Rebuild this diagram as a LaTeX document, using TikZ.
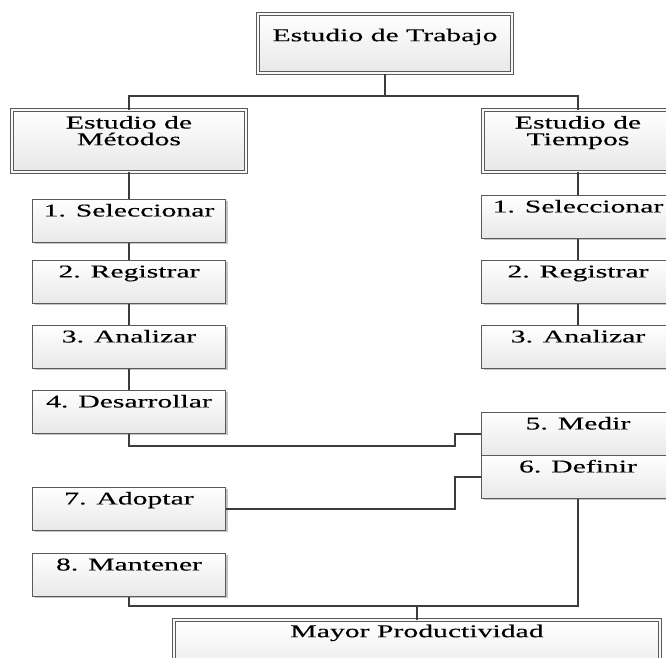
\documentclass[tikz,border=0pt]{standalone}
\usepackage{fontspec}
\setmainfont{Liberation Serif}[FakeStretch=1.65, FakeBold=0.3]
\usetikzlibrary{shadows}
\definecolor{boxline}{HTML}{5A5A5A}
\definecolor{linkline}{HTML}{3C3C3C}
\definecolor{shadowgray}{HTML}{C4C4C4}
\definecolor{gapfill}{HTML}{F8F8F8}
\tikzset{
  boxbase/.style={draw=boxline, line width=0.9pt, top color=white, bottom color=black!9,
    inner xsep=0pt, inner ysep=0pt, anchor=north, text=black,
    font=\fontsize{18}{16.7}\selectfont,
    drop shadow={shadow xshift=2pt, shadow yshift=-2pt, fill=shadowgray, opacity=1}},
  stepbox/.style={boxbase, minimum width=193pt, text height=17pt, text depth=26pt},
  headbox/.style={boxbase, line width=0.8pt, double=gapfill, double distance=2.2pt},
  conn/.style={draw=linkline, line width=1.8pt}
}
\begin{document}
\begin{tikzpicture}[x=1pt, y=-1pt]
  \useasboundingbox (0,0) rectangle (666,657);
  \fill[white] (0,0) rectangle (666,657);
  \clip (0,0) rectangle (666,657);

  % header boxes
  \node[headbox, minimum width=254pt, text height=27pt, text depth=32pt] (trabajo) at (385,13.8) {Estudio de Trabajo};
  \node[headbox, minimum width=234pt, align=center, text height=35pt, text depth=26.4pt] (metodos) at (129,109.8) {Estudio de\\Métodos};
  \node[headbox, minimum width=190pt, align=center, text height=35pt, text depth=26.4pt] (tiempos) at (578,109.8) {Estudio de\\Tiempos};

  % method study steps
  \node[stepbox] (sel) at (129,199) {1. Seleccionar};
  \node[stepbox] (reg) at (129,260) {2. Registrar};
  \node[stepbox] (ana) at (129,325) {3. Analizar};
  \node[stepbox] (des) at (129,390) {4. Desarrollar};
  \node[stepbox] (adop) at (129,487) {7. Adoptar};
  \node[stepbox] (mant) at (129,553) {8. Mantener};

  % time study steps
  \node[stepbox] (tsel) at (578,195) {1. Seleccionar};
  \node[stepbox] (treg) at (578,260) {2. Registrar};
  \node[stepbox] (tana) at (578,325) {3. Analizar};
  \node[stepbox] (medir) at (578,412) {5. Medir};
  \node[stepbox] (definir) at (578,455) {6. Definir};

  % result
  \node[headbox, minimum width=486pt, text height=17pt, text depth=42pt] (mayor) at (417,619.8) {Mayor Productividad};

  % junction points
  \coordinate (bustop) at (385,96);
  \coordinate (jd) at (455,446);
  \coordinate (jx) at (455,0);
  \coordinate (busbot) at (417,606);

  % connectors
  \draw[conn] (trabajo.south) -- (bustop);
  \draw[conn] (metodos.north) |- (bustop) -| (tiempos.north);
  \draw[conn] (metodos.south) -- (sel.north);
  \draw[conn] (sel.south) -- (reg.north);
  \draw[conn] (reg.south) -- (ana.north);
  \draw[conn] (ana.south) -- (des.north);
  \draw[conn] (tiempos.south) -- (tsel.north);
  \draw[conn] (tsel.south) -- (treg.north);
  \draw[conn] (treg.south) -- (tana.north);
  \draw[conn] (des.south) |- (jd) |- (medir.west);
  \draw[conn] (adop.east) -| (jx |- definir.west) -- (definir.west);
  \draw[conn] (mant.south) |- (busbot) -| (definir.south);
  \draw[conn] (busbot) -- (mayor.north);
\end{tikzpicture}
\end{document}
